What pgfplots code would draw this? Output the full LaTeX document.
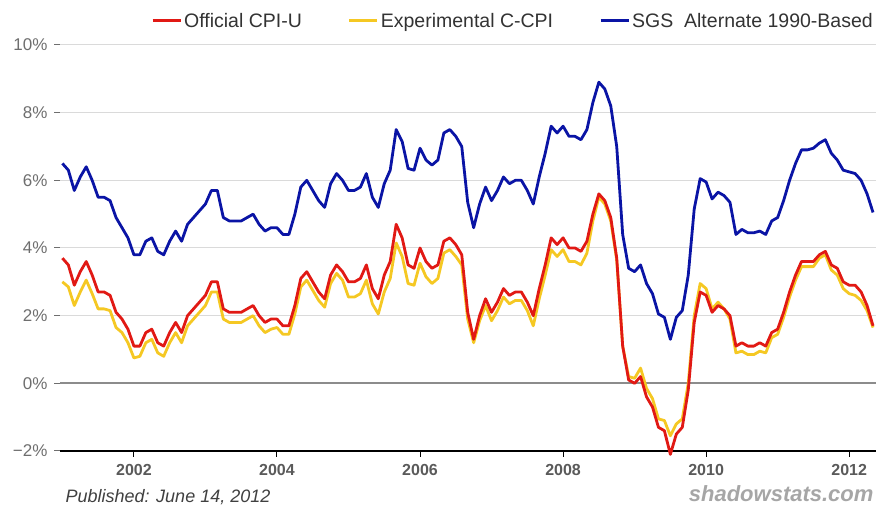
\documentclass[border=0pt]{standalone}
\usepackage{pgfplots}
\pgfplotsset{compat=1.18}
\usepackage{pgfplotstable}
\usepackage{fontspec}
\setmainfont{Liberation Sans}
\definecolor{cpired}{RGB}{225,25,20}
\definecolor{cpiyel}{RGB}{245,200,35}
\definecolor{sgsblue}{RGB}{10,20,165}
\definecolor{gridgray}{RGB}{218,218,218}
\definecolor{zerogray}{RGB}{140,140,140}
\definecolor{ticklab}{RGB}{90,90,90}
\definecolor{ylab}{RGB}{110,110,110}
\pgfplotstableread{
m red yel blue
0 3.7 3.0 6.5
1 3.5 2.85 6.3
2 2.9 2.3 5.7
3 3.3 2.7 6.1
4 3.6 3.05 6.4
5 3.2 2.65 6.0
6 2.7 2.2 5.5
7 2.7 2.2 5.5
8 2.6 2.15 5.4
9 2.1 1.65 4.9
10 1.9 1.5 4.6
11 1.6 1.2 4.3
12 1.1 0.75 3.8
13 1.1 0.8 3.8
14 1.5 1.2 4.2
15 1.6 1.3 4.3
16 1.2 0.9 3.9
17 1.1 0.8 3.8
18 1.5 1.2 4.2
19 1.8 1.5 4.5
20 1.5 1.2 4.2
21 2.0 1.7 4.7
22 2.2 1.9 4.9
23 2.4 2.1 5.1
24 2.6 2.3 5.3
25 3.0 2.7 5.7
26 3.0 2.7 5.7
27 2.2 1.9 4.9
28 2.1 1.8 4.8
29 2.1 1.8 4.8
30 2.1 1.8 4.8
31 2.2 1.9 4.9
32 2.3 2.0 5.0
33 2.0 1.7 4.7
34 1.8 1.5 4.5
35 1.9 1.6 4.6
36 1.9 1.65 4.6
37 1.7 1.45 4.4
38 1.7 1.45 4.4
39 2.3 2.05 5.0
40 3.1 2.85 5.8
41 3.3 3.05 6.0
42 3.0 2.75 5.7
43 2.7 2.45 5.4
44 2.5 2.25 5.2
45 3.2 2.95 5.9
46 3.5 3.25 6.2
47 3.3 3.05 6.0
48 3.0 2.55 5.7
49 3.0 2.55 5.7
50 3.1 2.65 5.8
51 3.5 3.05 6.2
52 2.8 2.35 5.5
53 2.5 2.05 5.2
54 3.2 2.7 5.9
55 3.6 3.1 6.3
56 4.7 4.15 7.5
57 4.3 3.75 7.15
58 3.5 2.95 6.35
59 3.4 2.9 6.3
60 4.0 3.55 6.95
61 3.6 3.15 6.6
62 3.4 2.95 6.45
63 3.5 3.1 6.6
64 4.2 3.85 7.4
65 4.3 3.95 7.5
66 4.1 3.75 7.3
67 3.8 3.5 7.0
68 2.1 1.9 5.35
69 1.3 1.2 4.6
70 2.0 1.85 5.3
71 2.5 2.3 5.8
72 2.1 1.85 5.4
73 2.4 2.15 5.7
74 2.8 2.55 6.1
75 2.6 2.35 5.9
76 2.7 2.45 6.0
77 2.7 2.45 6.0
78 2.4 2.15 5.7
79 2.0 1.7 5.3
80 2.8 2.5 6.1
81 3.5 3.2 6.8
82 4.3 3.95 7.6
83 4.1 3.75 7.4
84 4.3 3.95 7.6
85 4.0 3.6 7.3
86 4.0 3.6 7.3
87 3.9 3.5 7.2
88 4.2 3.85 7.5
89 5.0 4.8 8.3
90 5.6 5.5 8.9
91 5.4 5.3 8.7
92 4.9 4.8 8.2
93 3.7 3.65 7.0
94 1.1 1.1 4.4
95 0.1 0.2 3.4
96 0.0 0.15 3.3
97 0.2 0.45 3.5
98 -0.4 -0.15 2.95
99 -0.7 -0.45 2.65
100 -1.3 -1.05 2.05
101 -1.4 -1.1 1.95
102 -2.1 -1.55 1.3
103 -1.5 -1.2 1.95
104 -1.3 -1.05 2.15
105 -0.2 0.0 3.2
106 1.8 2.0 5.15
107 2.7 2.95 6.05
108 2.6 2.8 5.95
109 2.1 2.2 5.45
110 2.3 2.4 5.65
111 2.2 2.2 5.55
112 2.0 1.9 5.35
113 1.1 0.9 4.4
114 1.2 0.95 4.55
115 1.1 0.85 4.45
116 1.1 0.85 4.45
117 1.2 0.95 4.5
118 1.1 0.9 4.4
119 1.5 1.35 4.8
120 1.6 1.45 4.9
121 2.1 1.95 5.4
122 2.7 2.55 6.0
123 3.2 3.05 6.5
124 3.6 3.45 6.9
125 3.6 3.45 6.9
126 3.6 3.45 6.95
127 3.8 3.7 7.1
128 3.9 3.8 7.2
129 3.5 3.35 6.8
130 3.4 3.2 6.6
131 3.0 2.8 6.3
132 2.9 2.65 6.25
133 2.9 2.6 6.2
134 2.7 2.45 6.0
135 2.3 2.15 5.6
136 1.7 1.65 5.05
}\cpidata
\begin{document}
\begin{tikzpicture}[x=1pt,y=1pt]
\path[use as bounding box] (0,0) rectangle (890,513);
\begin{axis}[
  at={(60pt,62pt)}, anchor=south west,
  scale only axis, width=816pt, height=406pt,
  xmin=-0.4, xmax=136.5, ymin=-2, ymax=10,
  clip=false,
  axis x line*=bottom, axis y line*=left,
  x axis line style={black, line width=1.2pt, -},
  y axis line style={draw=none},
  xtick={12,36,60,84,108,132},
  xticklabels={2002,2004,2006,2008,2010,2012},
  ytick={-2,0,2,4,6,8,10},
  yticklabels={−2\%,0\%,2\%,4\%,6\%,8\%,10\%},
  tick align=outside,
  major tick length=6pt,
  xtick style={black, line width=1pt},
  ytick style={ylab, line width=1pt},
  ymajorgrids, grid style={gridgray, line width=1pt},
  xticklabel style={font=\bfseries\fontsize{16}{16}\selectfont, text=ticklab, yshift=-4pt},
  yticklabel style={font=\fontsize{17}{17}\selectfont, text=ylab, xshift=-3pt},
  legend columns=3,
  legend style={at={(1,1)}, anchor=south east, yshift=12pt, xshift=2pt, draw=none, fill=none,
    font=\fontsize{19.5}{19.5}\selectfont, text=black!80,
    /tikz/every even column/.append style={column sep=44pt}},
  legend image code/.code={\draw[#1] (0pt,0pt) -- (28pt,0pt);},
]
\addplot[zerogray, line width=2.2pt, forget plot] coordinates {(-0.4,0) (136.5,0)};
\addplot[sgsblue, line width=2.8pt, line join=round, forget plot] table[x=m, y=blue] {\cpidata};
\addplot[cpiyel, line width=2.8pt, line join=round, forget plot] table[x=m, y=yel] {\cpidata};
\addplot[cpired, line width=2.8pt, line join=round, forget plot] table[x=m, y=red] {\cpidata};
\addlegendimage{cpired, line width=3pt}
\addlegendentry{Official CPI-U}
\addlegendimage{cpiyel, line width=3pt}
\addlegendentry{Experimental C-CPI}
\addlegendimage{sgsblue, line width=3pt}
\addlegendentry{SGS\ \ Alternate 1990-Based}
\end{axis}
\node[anchor=west, font=\itshape\fontsize{18}{18}\selectfont, text=black!75] at (62,16) {Published: June 14, 2012};
\node[anchor=east, font=\bfseries\itshape\fontsize{22}{22}\selectfont, text=black!35] at (877,19) {shadowstats.com};
\end{tikzpicture}
\end{document}
